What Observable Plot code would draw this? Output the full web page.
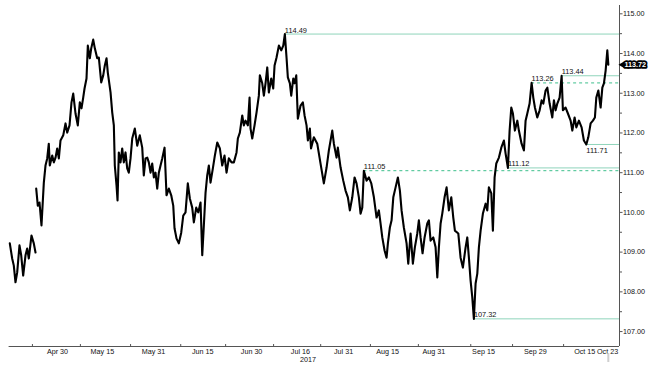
<!DOCTYPE html>
<html><head><meta charset="utf-8">
<script src="https://cdn.jsdelivr.net/npm/d3@7"></script>
<script src="https://cdn.jsdelivr.net/npm/@observablehq/plot@0.6"></script>
<style>html,body{margin:0;padding:0;background:#fff;} svg{display:block;}</style>
</head><body><div id="chart"></div>
<script>
// trading-session index (0 = Apr 14, 2017)
const sessions = [
0.16,0.70,1.07,1.45,1.84,2.36,2.75,3.20,3.73,4.11,
4.48,5.09,5.61,6.00,6.08,6.16,6.52,6.91,7.36,7.89,
8.27,8.66,9.02,9.25,9.80,10.16,10.55,10.93,11.30,11.68,
12.30,12.82,13.20,13.73,14.18,14.57,15.09,15.61,16.07,16.45,
16.84,17.14,17.59,17.89,18.34,18.66,19.11,19.48,20.02,20.39,
20.93,21.39,21.75,22.14,22.43,23.05,23.43,23.80,24.02,24.41,
24.64,24.93,25.32,25.70,26.07,26.45,26.84,27.20,27.59,27.98,
28.57,29.11,29.70,30.25,30.61,31.00,31.39,31.75,32.14,32.52,
32.89,33.27,33.66,34.02,34.41,34.80,35.32,35.77,36.30,36.84,
37.30,37.59,38.05,38.57,39.11,39.57,40.09,40.61,41.07,41.61,
41.98,42.52,42.98,43.50,43.89,44.25,44.64,45.02,45.39,45.77,
46.30,46.75,47.30,47.89,48.43,48.95,49.41,49.93,50.55,51.07,
51.68,51.98,52.43,52.98,53.34,53.73,54.25,54.64,54.86,55.25,
55.77,56.23,56.75,56.98,57.52,57.89,58.27,58.66,59.02,59.57,
60.02,60.32,60.77,61.30,61.84,62.30,62.66,63.05,63.34,63.80,
64.11,64.57,64.86,65.25,65.61,66.23,66.75,67.14,67.59,67.89,
68.34,68.60,69.25,70.02,70.77,71.52,72.14,72.66,73.43,73.80,
74.41,74.70,75.32,75.93,76.45,76.98,77.43,77.98,78.50,78.95,
79.48,79.86,80.25,80.61,81.23,81.75,82.30,82.89,83.50,84.02,
84.41,84.80,85.32,85.77,86.07,86.52,86.91,87.30,87.82,88.34,
88.80,89.18,89.70,90.32,90.70,91.23,91.75,92.20,92.75,93.11,
93.50,93.95,94.41,95.02,95.39,95.77,96.39,96.91,97.30,97.66,
98.05,98.43,98.95,99.41,99.93,100.48,100.93,101.30,102.07,102.59,
103.11,103.73,104.11,104.48,104.86,105.25,105.61,106.00,106.39,106.75,
107.14,107.66,108.27,108.66,109.02,109.57,109.93,110.32,110.70,111.30,
111.84,112.43,112.82,113.34,113.73,114.11,114.48,114.93,115.48,115.84,
116.45,116.98,117.36,117.75,118.27,118.73,119.11,119.48,120.02,120.55,
121.00,121.39,121.91,122.30,122.82,123.43,123.80,124.18,124.57,125.09,
125.55,125.84,126.45,126.98,127.59,127.98,128.50,128.89,129.48,130.09,
130.61,131.16,131.61,132.14,132.66,133.11,133.43,133.89,134.41,134.80,
135.16,135.55,135.93,136.16
];
const prices = [
109.22,108.84,108.66,108.24,108.49,109.17,108.92,108.41,108.92,109.09,
108.84,109.42,109.22,108.99,null,110.60,110.17,110.25,109.67,110.75,
111.18,111.36,111.73,111.18,111.43,111.26,111.38,111.61,111.36,111.81,
111.94,112.24,112.01,112.19,112.77,112.99,112.49,112.19,112.77,112.62,
112.89,113.12,113.37,114.20,113.88,114.13,114.35,114.13,113.88,113.90,
113.27,113.45,113.70,113.88,113.52,113.02,112.52,112.19,111.18,110.68,
110.30,111.51,111.26,111.61,111.26,111.51,111.11,111.00,111.36,111.86,
112.11,111.68,111.94,111.63,110.93,111.36,111.38,111.26,111.00,111.23,
110.88,111.00,110.60,111.00,111.18,111.36,111.63,110.43,110.60,110.43,
110.17,109.60,109.34,109.22,109.49,109.92,110.00,110.73,110.35,110.12,
109.75,110.12,110.00,110.25,108.92,109.67,110.50,110.93,111.18,110.75,
111.11,111.43,111.76,111.61,111.18,111.43,111.00,111.36,111.26,111.26,
111.51,111.86,112.01,112.44,112.19,112.31,112.19,112.89,112.11,111.86,
112.19,112.52,112.94,113.45,113.25,112.94,113.25,113.65,113.02,113.37,
113.12,113.70,113.90,114.20,114.08,114.20,114.49,113.88,113.40,113.25,
112.94,113.37,113.25,113.45,112.36,112.69,112.77,112.44,112.19,111.81,
112.11,111.61,111.89,111.73,111.23,110.73,111.13,111.56,112.06,111.73,
111.38,111.63,111.13,110.80,110.55,110.38,110.05,110.38,110.88,110.73,
110.38,109.97,110.12,111.05,110.80,110.88,110.73,110.38,109.87,110.05,
109.72,109.37,109.04,108.86,109.22,109.62,109.80,110.38,110.63,110.88,
110.55,110.05,109.62,109.22,108.71,109.47,108.71,109.12,109.47,109.80,
109.37,108.97,109.37,109.72,109.80,109.29,109.37,109.12,108.36,109.12,
109.72,109.97,110.38,110.63,110.05,110.38,109.87,109.54,109.47,108.86,
108.61,109.12,109.37,108.86,108.29,107.86,107.32,108.21,108.46,109.12,
109.54,109.97,110.22,110.05,110.63,110.48,109.54,110.88,111.23,111.38,
111.63,111.81,111.48,111.12,112.06,112.64,112.49,112.06,112.31,112.06,
111.73,111.56,112.31,112.49,112.74,113.26,112.89,112.64,112.39,112.57,
112.82,112.74,113.07,113.14,112.74,112.39,112.82,112.57,112.74,112.89,
113.44,112.57,112.64,112.49,112.31,112.06,112.39,112.14,112.31,112.14,
111.81,111.71,111.89,112.24,112.31,112.39,112.89,113.07,112.64,113.14,
113.25,113.57,114.08,113.72
];

// annotated levels
const levelValues = [114.49, 111.05, 111.12, 107.32, 113.26, 113.44, 111.71];
const levelStarts = [62.66, 80.61, 113.34, 105.61, 118.73, 125.55, 131.16];
const levelDashed = [false, true, false, false, true, false, false];
const levelBelow  = [false, false, false, false, false, false, true];

// x axis
const tickLabels = ["Apr 30","May 15","May 31","Jun 15","Jun 30","Jul 16","Jul 31","Aug 15","Aug 31","Sep 15","Sep 29","Oct 15","Oct 23"];
const tickLabelSessions = [11.0, 21.2, 32.8, 44.0, 55.1, 66.2, 76.0, 86.0, 96.5, 107.8, 119.6, 130.8, 136.0];
const tickMarkSessions = [5.3, 16.2, 27.6, 39.0, 49.2, 60.1, 70.8, 82.1, 93.0, 104.9, 114.4, 126.0];
const yearLabel = "2017";
const yearSession = 67.9;

// y axis
const yTicks = [107, 108, 109, 110, 111, 112, 113, 114, 115];
const yMinorTicks = [107.5, 108.5, 109.5, 110.5, 111.5, 112.5, 113.5, 114.5];
const lastPrice = 113.72;
const lastSession = 136.16;

const xDomain = [0, 138.7];
const yDomain = [106.624, 115.209];

const data = sessions.map((s, i) => ({s, v: prices[i]}));
const levels = levelValues.map((v, i) => ({v, start: levelStarts[i], dashed: levelDashed[i], below: levelBelow[i]}));
const labelMap = new Map(tickLabelSessions.map((s, i) => [s, tickLabels[i]]));

const font = "Liberation Sans, Arial, sans-serif";
const solidColor = "#8fd4bb";
const dashColor = "#3dbf8c";

const chart = Plot.plot({
  width: 659,
  height: 374,
  marginTop: 5,
  marginBottom: 28,
  marginLeft: 8.6,
  marginRight: 40,
  style: {fontFamily: font, fontSize: "7.2px", color: "#111", background: "#fff"},
  x: {domain: xDomain, axis: null},
  y: {domain: yDomain, axis: null},
  marks: [
    Plot.ruleY(levels.filter(d => !d.dashed), {y: "v", x1: "start", x2: xDomain[1], stroke: solidColor, strokeWidth: 1}),
    Plot.ruleY(levels.filter(d => d.dashed), {y: "v", x1: "start", x2: xDomain[1], stroke: dashColor, strokeWidth: 1, strokeDasharray: "3,3"}),
    Plot.line(data, {x: "s", y: "v", stroke: "#000", strokeWidth: 2.1, strokeLinejoin: "round"}),
    Plot.text(levels.filter(d => !d.below), {x: "start", y: "v", text: d => d.v.toFixed(2), textAnchor: "start", dy: -3.8, fill: "#111", fontSize: 7.4}),
    Plot.text(levels.filter(d => d.below), {x: "start", y: "v", text: d => d.v.toFixed(2), textAnchor: "start", dy: 6.5, fill: "#111", fontSize: 7.4}),
    Plot.ruleY([yDomain[0]], {stroke: "#555", strokeWidth: 1}),
    Plot.ruleX([xDomain[1]], {stroke: "#555", strokeWidth: 1}),
    Plot.axisY(yTicks, {anchor: "right", label: null, tickSize: 2.5, tickPadding: 1, tickFormat: d => d.toFixed(2), stroke: "#555"}),
    Plot.axisY(yMinorTicks, {anchor: "right", label: null, tickSize: 2, tickFormat: () => "", stroke: "#555"}),
    Plot.axisX(tickMarkSessions, {anchor: "bottom", label: null, tickSize: -2, tickFormat: () => "", stroke: "#555"}),
    Plot.axisX(tickLabelSessions, {anchor: "bottom", label: null, tickSize: 0, tickPadding: 2, tickFormat: d => labelMap.get(d)}),
    Plot.axisX([yearSession], {anchor: "bottom", label: null, tickSize: 0, tickPadding: 10, tickFormat: () => yearLabel}),
    Plot.axisX([lastSession], {anchor: "bottom", label: null, tickSize: 9, dy: 7, stroke: "#cfcfcf", strokeWidth: 2, tickFormat: () => ""}),
    Plot.dot([lastPrice], {y: d => d, frameAnchor: "right", dx: 3, symbol: "triangle", rotate: -90, r: 2.6, fill: "#000"}),
    Plot.text([lastPrice], {y: d => d, text: d => d.toFixed(2), frameAnchor: "right", dx: 5, textAnchor: "start", fill: "#fff", stroke: "#000", strokeWidth: 3.5, paintOrder: "stroke", fontSize: 7.2, fontWeight: "bold"})
  ]
});
document.getElementById("chart").appendChild(chart);
</script>
</body></html>
